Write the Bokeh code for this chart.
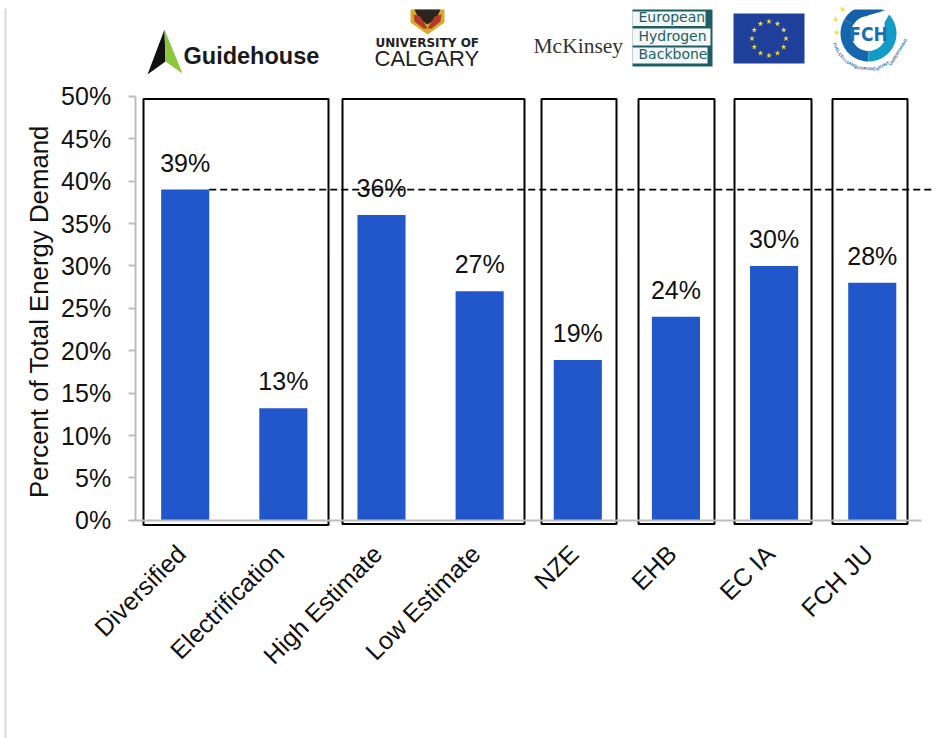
import math
import numpy as np
from bokeh.plotting import figure
from bokeh.embed import file_html
from bokeh.resources import INLINE
from bokeh.core.properties import value
from bokeh.models import Range1d, LinearAxis, FixedTicker

categories = ["Diversified", "Electrification", "High Estimate", "Low Estimate", "NZE", "EHB", "EC IA", "FCH JU"]
shares = [39, 13.2, 36, 27, 18.9, 24, 30, 28]
share_labels = ["39%", "13%", "36%", "27%", "19%", "24%", "30%", "28%"]
y_ticks = [0, 5, 10, 15, 20, 25, 30, 35, 40, 45, 50]
reference_level = 39

W, H = 937, 738
X0, DX = 184.7, 98.15
Y0, DY = 519.8, 8.48
FONT = "Liberation Sans"
BAR = "#2157CB"
GRAY = "#BDBDBD"

p = figure(width=W, height=H, output_backend="svg", toolbar_location=None,
           x_range=Range1d(-X0 / DX, (W - X0) / DX),
           y_range=Range1d((Y0 - H) / DY, Y0 / DY),
           x_axis_location=None, y_axis_location=None,
           min_border=0, min_border_left=0, min_border_right=0, min_border_top=0, min_border_bottom=0,
           outline_line_color=None)
p.grid.visible = False
p.extra_x_ranges["px"] = Range1d(0, W)
p.extra_y_ranges["px"] = Range1d(H, 0)
PX = dict(x_range_name="px", y_range_name="px")


def txt(x, y, s, size, color="#111111", font=FONT, style="normal", align="left", angle=0.0, base="alphabetic"):
    if base == "alphabetic":
        k = 0.36 * size
        x -= math.sin(angle) * k
        y -= math.cos(angle) * k
    p.text([x], [y], text=[s], text_font=value(font), text_font_size=value(f"{size}px"), text_color=color,
           text_font_style=style, text_align=align, text_baseline=base, angle=angle, **PX)


def poly(xs, ys, color):
    p.patch(xs, ys, fill_color=color, line_color=None, **PX)


def rect(l, t, r, b, color):
    p.quad(left=[l], right=[r], top=[t], bottom=[b], fill_color=color, line_color=None, **PX)


# page edge rule
p.line([5, 5], [8, H], line_color="#D9D9D9", line_width=2, **PX)

# bars
p.vbar(x=list(range(len(categories))), top=shares, bottom=0, width=0.49, fill_color=BAR, line_color=None)

# group boxes
for l, r, b in [(143, 328, 524.5), (342, 524, 523.5), (541, 616, 523.5), (638, 714, 523.5), (734, 811, 523.5), (832, 907, 523.5)]:
    p.quad(left=[l], right=[r], top=[98.5], bottom=[b], fill_color=None, line_color="#000000", line_width=2, **PX)

# reference line
p.line([0.245, (933 - X0) / DX], [reference_level] * 2, line_color="#000000", line_width=1.8, line_dash="7 4")

# value labels
p.text(x=list(range(len(categories))), y=shares, text=share_labels, text_align="center", text_baseline="alphabetic",
       y_offset=-27, text_font=value(FONT), text_font_size=value("25px"), text_color="#111111")

# axes
ya = LinearAxis(fixed_location=-0.51, bounds=(0, 50), ticker=FixedTicker(ticks=y_ticks))
ya.major_label_overrides = {t: f"{t}%" for t in y_ticks}
ya.major_label_text_font = FONT
ya.major_label_text_font_size = "25px"
ya.major_label_text_color = "#111111"
ya.major_label_standoff = 17
ya.major_tick_in = 0
ya.major_tick_out = 7
ya.minor_tick_in = 0
ya.minor_tick_out = 0
ya.axis_line_color = GRAY
ya.axis_line_width = 2
ya.major_tick_line_color = GRAY
ya.major_tick_line_width = 2
p.add_layout(ya, "left")

shift = 0.04
x_ticks = [i - shift for i in range(len(categories))]
xa = LinearAxis(fixed_location=0, bounds=(-0.51, 7.5), ticker=FixedTicker(ticks=x_ticks))
xa.major_label_overrides = {t: c for t, c in zip(x_ticks, categories)}
xa.major_label_orientation = math.pi / 4
xa.major_label_text_font = FONT
xa.major_label_text_font_size = "25px"
xa.major_label_text_color = "#111111"
xa.major_label_standoff = 29
xa.major_tick_in = 0
xa.major_tick_out = 0
xa.minor_tick_in = 0
xa.minor_tick_out = 0
xa.axis_line_color = GRAY
xa.axis_line_width = 2
p.add_layout(xa, "below")

txt(48, 311, "Percent of Total Energy Demand", 25.8, align="center", angle=math.pi / 2)

# Guidehouse logo
poly([164, 147, 165], [29, 74, 61], "#111111")
poly([164, 182, 165], [29, 73, 61], "#8CC63F")
txt(183, 63.5, "Guidehouse", 23.5, style="bold", color="#1A1A1A")

# University of Calgary logo
poly([410, 444, 444, 427, 410], [9, 9, 22, 34, 22], "#D8A92A")
poly([414, 440, 436, 427, 418], [9, 9, 18, 24, 18], "#2A2420")
poly([413, 420, 427, 423, 414], [14, 16, 28, 28, 21], "#B23A2A")
poly([441, 434, 427, 431, 440], [14, 16, 28, 28, 21], "#B23A2A")
txt(375, 47, "UNIVERSITY OF", 12, style="bold", color="#222222", font="DejaVu Sans")
txt(374, 66, "CALGARY", 22, color="#222222")

# McKinsey logo
txt(533, 53, "McKinsey", 21.5, color="#333333", font="Liberation Serif")

# European Hydrogen Backbone logo
EHB = "#1E5E62"
rect(632, 9, 712, 66, EHB)
for l, t, r, b, s in [(632, 11, 705, 25.5, "European"), (632, 28, 710, 45, "Hydrogen"), (632, 47, 707, 63, "Backbone")]:
    rect(l, t, r, b, "#F4F8F8")
    txt(638, b - 4, s, 14, color=EHB, font="DejaVu Sans")

# EU flag
rect(733, 13, 804, 63, "#1F409A")
ang = np.arange(12) * math.pi / 6
p.scatter(768.5 + 17 * np.cos(ang), 38 + 17 * np.sin(ang), marker="star", size=6, fill_color="#F2D53C", line_color=None, **PX)

# FCH JU logo
cx, cy = 868.0, 33.0
for a0, a1, c in [(90, 210, "#1566AD"), (210, 300, "#145FA8"), (-60, 90, "#129CC6")]:
    t = np.radians(np.linspace(a0, a1, 30))
    poly(list(cx + 28 * np.cos(t)) + list(cx + 17.5 * np.cos(t[::-1])),
         list(cy + 28 * np.sin(t)) + list(cy + 17.5 * np.sin(t[::-1])), c)
poly([867, 892, 884, 884], [15, 8, 22, 34], "#FFFFFF")
rect(830, 0, 910, 9, "#FFFFFF")
txt(cx, cy + 7, "FCH", 19, style="bold", color="#1B6FB0", align="center", font="DejaVu Sans Condensed")
p.scatter([835, 836, 842], [19, 32, 9], marker="star", size=7, fill_color="#F2E14C", line_color=None, **PX)
for s, deg in [("FUEL", 155.6), ("CELLS", 135), ("AND", 117), ("HYDROGEN", 93), ("JOINT", 65), ("UNDERTAKING", 32)]:
    a = math.radians(deg)
    txt(cx + 35 * math.cos(a), cy + 35 * math.sin(a), s, 4.2, style="bold", color="#1D72AE", align="center", base="middle",
        angle=math.radians(90 - deg))

open("out.html", "w").write(file_html(p, INLINE))
